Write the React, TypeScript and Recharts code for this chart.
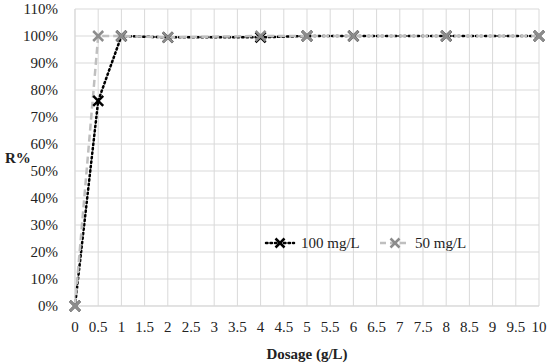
import { LineChart, Line, XAxis, YAxis, CartesianGrid, Label } from 'recharts'

const dosages = [0, 0.5, 1, 2, 4, 5, 6, 8, 10]
const r100 = [0, 0.76, 1.0, 0.995, 0.995, 1.0, 1.0, 1.0, 1.0]
const r50 = [0, 1.0, 1.0, 0.995, 1.0, 1.0, 1.0, 1.0, 1.0]

const xTicks = [0, 0.5, 1, 1.5, 2, 2.5, 3, 3.5, 4, 4.5, 5, 5.5, 6, 6.5, 7, 7.5, 8, 8.5, 9, 9.5, 10]
const yTicks = [0, 0.1, 0.2, 0.3, 0.4, 0.5, 0.6, 0.7, 0.8, 0.9, 1.0, 1.1]

const data = dosages.map((d, i) => ({ dosage: d, a: r100[i], b: r50[i] }))

const FONT = '"Liberation Serif", "DejaVu Serif", serif'

const CrossDot = ({ cx, cy, color, size, width }: any) => {
  if (cx == null || cy == null) return null
  return (
    <g>
      <line x1={cx - size} y1={cy - size} x2={cx + size} y2={cy + size} stroke={color} strokeWidth={width} />
      <line x1={cx - size} y1={cy + size} x2={cx + size} y2={cy - size} stroke={color} strokeWidth={width} />
    </g>
  )
}

// legend drawn as an overlay inside the plot area
const ChartLegend = () => (
  <svg width={230} height={20} style={{ position: 'absolute', left: 264, top: 233, fontFamily: FONT }}>
    <line x1={2} y1={10} x2={30} y2={10} stroke="#000" strokeWidth={2.5} strokeDasharray="1.5 3" strokeLinecap="round" />
    <CrossDot cx={16} cy={10} color="#000" size={4.5} width={2.5} />
    <text x={37} y={15} fontSize={15} fill="#222">100 mg/L</text>
    <line x1={116} y1={10} x2={146} y2={10} stroke="#bfbfbf" strokeWidth={2.5} strokeDasharray="6 4" />
    <CrossDot cx={131} cy={10} color="#8c8c8c" size={4.5} width={2.5} />
    <text x={151} y={15} fontSize={15} fill="#222">50 mg/L</text>
  </svg>
)

export default function App() {
  return (
    <div style={{ position: 'absolute', left: 0, top: 0, width: 550, height: 364, background: '#fff' }}>
      <LineChart width={550} height={364} data={data} margin={{ top: 9, right: 11, left: 0, bottom: 0 }}>
        <CartesianGrid stroke="#d9d9d9" strokeWidth={1} />
        <XAxis
          dataKey="dosage"
          type="number"
          domain={[0, 10]}
          ticks={xTicks}
          interval={0}
          height={58}
          axisLine={{ stroke: '#d9d9d9' }}
          tickLine={false}
          tick={{ fontFamily: FONT, fontSize: 15, fill: '#222' }}
          tickMargin={9}
        >
          <Label value="Dosage (g/L)" position="insideBottom" offset={5} style={{ fontFamily: FONT, fontSize: 15, fontWeight: 'bold', fill: '#222' }} />
        </XAxis>
        <YAxis
          type="number"
          domain={[0, 1.1]}
          ticks={yTicks}
          interval={0}
          width={75}
          axisLine={{ stroke: '#d9d9d9' }}
          tickLine={false}
          tickFormatter={(v: number) => `${Math.round(v * 100)}%`}
          tick={{ fontFamily: FONT, fontSize: 15, fill: '#222' }}
          tickMargin={11}
        >
          <Label value="R%" position="insideLeft" offset={5} style={{ fontFamily: FONT, fontSize: 15, fontWeight: 'bold', fill: '#222' }} />
        </YAxis>
        <Line
          dataKey="a"
          name="100 mg/L"
          stroke="#000"
          strokeWidth={2.5}
          strokeDasharray="1.5 3"
          strokeLinecap="round"
          isAnimationActive={false}
          dot={(p: any) => <CrossDot key={`a${p.index}`} cx={p.cx} cy={p.cy} color="#000" size={5} width={2.5} />}
          activeDot={false}
        />
        <Line
          dataKey="b"
          name="50 mg/L"
          stroke="#bfbfbf"
          strokeWidth={2.5}
          strokeDasharray="7 4"
          isAnimationActive={false}
          dot={(p: any) => <CrossDot key={`b${p.index}`} cx={p.cx} cy={p.cy} color="#8c8c8c" size={5} width={2.5} />}
          activeDot={false}
        />
      </LineChart>
      <ChartLegend />
    </div>
  )
}
